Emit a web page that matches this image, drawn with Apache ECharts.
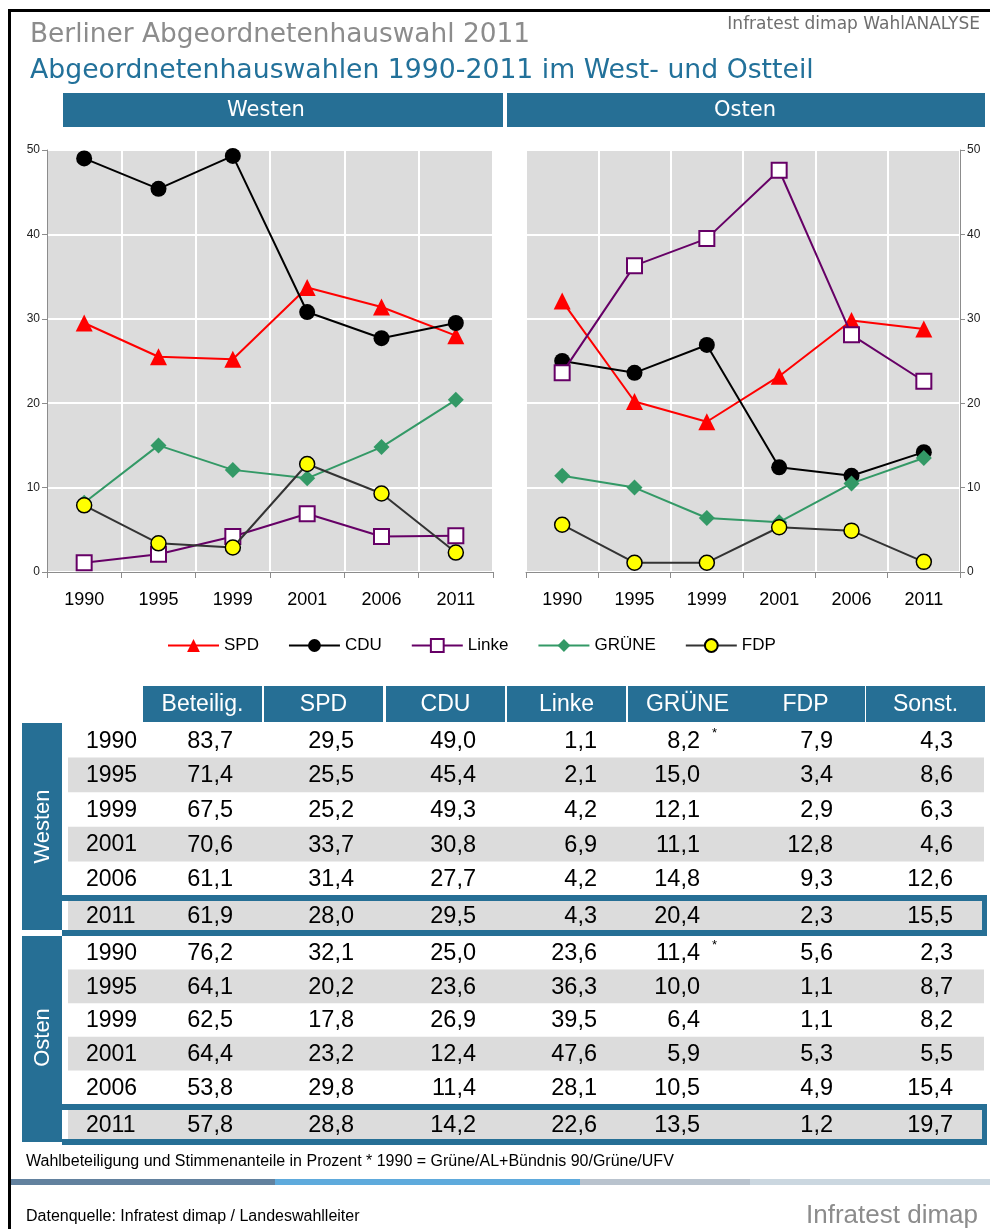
<!DOCTYPE html>
<html>
<head>
<meta charset="utf-8">
<script src="https://cdn.jsdelivr.net/npm/echarts@6.0.0/dist/echarts.min.js"></script>
<style>
  html, body { margin: 0; padding: 0; background: #fff; }
  #chart { width: 990px; height: 1229px; }
</style>
</head>
<body>
<div id="chart"></div>
<script>
// Election years and table columns
const years = ['1990', '1995', '1999', '2001', '2006', '2011'];
const columns = ['Beteilig.', 'SPD', 'CDU', 'Linke', 'GRÜNE', 'FDP', 'Sonst.'];
const parties = ['SPD', 'CDU', 'Linke', 'GRÜNE', 'FDP'];
const yTicks = [0, 10, 20, 30, 40, 50];

// West Berlin: turnout and vote shares (%)
const westBeteilig = [83.7, 71.4, 67.5, 70.6, 61.1, 61.9];
const westSPD      = [29.5, 25.5, 25.2, 33.7, 31.4, 28.0];
const westCDU      = [49.0, 45.4, 49.3, 30.8, 27.7, 29.5];
const westLinke    = [1.1, 2.1, 4.2, 6.9, 4.2, 4.3];
const westGruene   = [8.2, 15.0, 12.1, 11.1, 14.8, 20.4];
const westFDP      = [7.9, 3.4, 2.9, 12.8, 9.3, 2.3];
const westSonst    = [4.3, 8.6, 6.3, 4.6, 12.6, 15.5];

// East Berlin: turnout and vote shares (%)
const eastBeteilig = [76.2, 64.1, 62.5, 64.4, 53.8, 57.8];
const eastSPD      = [32.1, 20.2, 17.8, 23.2, 29.8, 28.8];
const eastCDU      = [25.0, 23.6, 26.9, 12.4, 11.4, 14.2];
const eastLinke    = [23.6, 36.3, 39.5, 47.6, 28.1, 22.6];
const eastGruene   = [11.4, 10.0, 6.4, 5.9, 10.5, 13.5];
const eastFDP      = [5.6, 1.1, 1.1, 5.3, 4.9, 1.2];
const eastSonst    = [2.3, 8.7, 8.2, 5.5, 15.4, 19.7];

const westTable = [westBeteilig, westSPD, westCDU, westLinke, westGruene, westFDP, westSonst];
const eastTable = [eastBeteilig, eastSPD, eastCDU, eastLinke, eastGruene, eastFDP, eastSonst];
const westLines = [westSPD, westCDU, westLinke, westGruene, westFDP];
const eastLines = [eastSPD, eastCDU, eastLinke, eastGruene, eastFDP];

// ---- styling ----
const FONT = 'Liberation Sans, Arial, sans-serif';
const WIDE = 'DejaVu Sans, Verdana, sans-serif';
const BLUE = '#266f95';
const ROWGRAY = '#dcdcdc';

const partyStyle = {
  'SPD':   { symbol: 'triangle', size: 17, line: '#ff0000', item: { color: '#ff0000' } },
  'CDU':   { symbol: 'circle',   size: 16, line: '#000000', item: { color: '#000000' } },
  'Linke': { symbol: 'rect',     size: 15, line: '#660066', item: { color: '#ffffff', borderColor: '#660066', borderWidth: 2 } },
  'GRÜNE': { symbol: 'diamond',  size: 16, line: '#339966', item: { color: '#339966' } },
  'FDP':   { symbol: 'circle',   size: 15, line: '#333333', item: { color: '#ffff00', borderColor: '#000000', borderWidth: 1.5 } }
};

function makeSeries(values, axisIndex) {
  return parties.map((p, i) => {
    const st = partyStyle[p];
    return {
      name: p,
      type: 'line',
      xAxisIndex: axisIndex,
      yAxisIndex: axisIndex,
      data: values[i],
      symbol: st.symbol,
      symbolSize: st.size,
      showAllSymbol: true,
      lineStyle: { color: st.line, width: 2 },
      itemStyle: Object.assign({}, st.item),
      emphasis: { disabled: true },
      z: 2 + i
    };
  });
}

function xAxisCfg(gridIndex) {
  return {
    type: 'category',
    gridIndex: gridIndex,
    data: years,
    boundaryGap: true,
    axisLine: { show: true, lineStyle: { color: '#8c8c8c', width: 1 } },
    axisTick: { show: true, length: 6, lineStyle: { color: '#8c8c8c' } },
    axisLabel: { color: '#000', fontSize: 18, fontFamily: FONT, margin: 19 },
    splitLine: { show: true, lineStyle: { color: '#ffffff', width: 2 } }
  };
}

function yAxisCfg(gridIndex, pos) {
  return {
    type: 'value',
    gridIndex: gridIndex,
    position: pos,
    min: 0, max: 50, interval: 10,
    axisLine: { show: true, lineStyle: { color: '#8c8c8c', width: 1 } },
    axisTick: { show: true, length: 5, lineStyle: { color: '#8c8c8c' } },
    axisLabel: { color: '#222', fontSize: 12, fontFamily: FONT, margin: 7,
                 formatter: v => (yTicks.indexOf(v) >= 0 ? String(v) : '') },
    splitLine: { show: true, lineStyle: { color: '#ffffff', width: 2 } }
  };
}

const fmt = v => v.toFixed(1).replace('.', ',');

// ---- decorative and table graphics ----
const g = [];
function rect(x, y, w, h, fill) {
  g.push({ type: 'rect', silent: true, shape: { x, y, width: w, height: h }, style: { fill } });
}
function text(str, x, y, opts) {
  const o = opts || {};
  g.push({
    type: 'text', silent: true, x, y, rotation: o.rotation || 0,
    style: {
      text: str, x: 0, y: 0,
      fill: o.fill || '#000',
      font: 'normal ' + (o.size || 14) + 'px ' + (o.family || FONT),
      textAlign: o.align || 'left',
      textVerticalAlign: o.valign || 'middle'
    }
  });
}

// frame
rect(8, 9, 982, 3, '#000');
rect(8, 9, 3, 1220, '#000');

// titles
text('Berliner Abgeordnetenhauswahl 2011', 30, 35, { size: 26.4, fill: '#8c8c8c', family: WIDE });
text('Abgeordnetenhauswahlen 1990-2011 im West- und Ostteil', 30, 71, { size: 26.7, fill: '#22719a', family: WIDE });
text('Infratest dimap WahlANALYSE', 980, 25, { size: 17, fill: '#6e6e6e', align: 'right', family: WIDE });

// panel header bars
rect(63, 93, 440, 34, BLUE);
rect(507, 93, 478, 34, BLUE);
text('Westen', 266, 111, { size: 21, fill: '#fff', align: 'center', family: WIDE });
text('Osten', 745, 111, { size: 21, fill: '#fff', align: 'center', family: WIDE });

// table header
const colLeft = [143, 264, 386, 507, 628, 746, 866];
const colW = 119;
const valRight = [233, 354, 476, 597, 700, 833, 953];
columns.forEach((c, i) => {
  rect(colLeft[i], 686, colW, 36, BLUE);
  text(c, colLeft[i] + colW / 2, 705, { size: 23, fill: '#fff', align: 'center' });
});

function tableBlock(label, table, top, rowH, lastTop, lastBottom) {
  // plain rows (first five), alternating fills
  for (let r = 0; r < 5; r++) {
    const y = top + r * rowH;
    if (r % 2 === 1) rect(68, y, 916, rowH, ROWGRAY);
  }
  // boxed final row
  rect(62, lastTop - 6, 925, (lastBottom + 6) - (lastTop - 6), BLUE);
  rect(62, lastTop, 920, lastBottom - lastTop, '#fff');
  rect(68, lastTop, 914, lastBottom - lastTop, ROWGRAY);
  // side label block
  rect(22, top, 40, lastBottom - top + (label === 'Westen' ? 0 : 3), BLUE);
  text(label, 43, (top + lastBottom) / 2, { size: 22, fill: '#fff', align: 'center', rotation: Math.PI / 2 });
  // cell texts
  years.forEach((yr, r) => {
    const cy = r < 5 ? top + r * rowH + rowH / 2 + 1 : (lastTop + lastBottom) / 2 + 1;
    text(yr, 86, cy, { size: 23 });
    table.forEach((col, c) => {
      text(fmt(col[r]), valRight[c], cy, { size: 23.5, align: 'right' });
    });
    if (r === 0) text('*', 712, cy - 8, { size: 13 });
  });
}
tableBlock('Westen', westTable, 723, 34.6, 901, 930);
tableBlock('Osten', eastTable, 936, 33.6, 1110, 1139);

// notes and footer
text('Wahlbeteiligung und Stimmenanteile in Prozent * 1990 = Grüne/AL+Bündnis 90/Grüne/UFV', 26, 1162, { size: 16 });
rect(11, 1179, 264, 6, '#62819e');
rect(275, 1179, 305, 6, '#5eaadc');
rect(580, 1179, 170, 6, '#b9c3ce');
rect(750, 1179, 240, 6, '#cbd7e0');
text('Datenquelle: Infratest dimap / Landeswahlleiter', 26, 1217, { size: 16 });
text('Infratest dimap', 978, 1216, { size: 26, fill: '#8c8c8c', align: 'right' });

const chart = echarts.init(document.getElementById('chart'), null, { renderer: 'canvas' });
chart.setOption({
  animation: false,
  backgroundColor: '#ffffff',
  textStyle: { fontFamily: FONT },
  grid: [
    { left: 47, top: 150, width: 446, height: 422, show: true, backgroundColor: '#dcdcdc', borderWidth: 0 },
    { left: 526, top: 150, width: 434, height: 422, show: true, backgroundColor: '#dcdcdc', borderWidth: 0 }
  ],
  xAxis: [xAxisCfg(0), xAxisCfg(1)],
  yAxis: [yAxisCfg(0, 'left'), yAxisCfg(1, 'right')],
  legend: {
    data: parties,
    left: 167, top: 637,
    padding: 0,
    itemWidth: 51, itemHeight: 16, itemGap: 29,
    selectedMode: false,
    textStyle: { fontSize: 17, color: '#000', fontFamily: FONT }
  },
  series: makeSeries(westLines, 0).concat(makeSeries(eastLines, 1)),
  graphic: { elements: g }
});
</script>
</body>
</html>
